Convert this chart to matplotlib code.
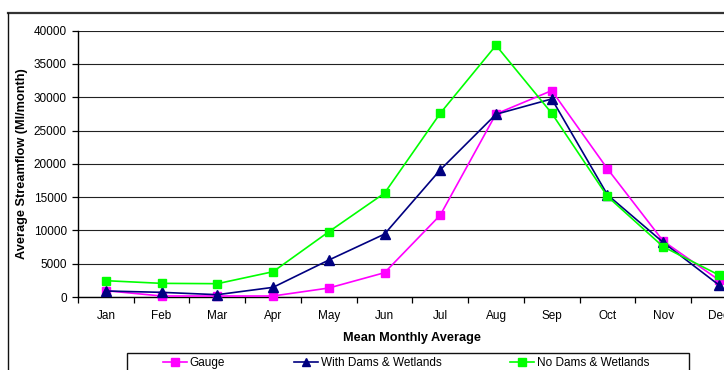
import matplotlib
matplotlib.use("Agg")
import matplotlib.pyplot as plt
from matplotlib.lines import Line2D
from matplotlib.patches import Rectangle

plt.rcParams["font.family"] = ["Liberation Sans", "DejaVu Sans"]

months = ["Jan", "Feb", "Mar", "Apr", "May", "Jun",
          "Jul", "Aug", "Sep", "Oct", "Nov", "Dec"]
gauge = [950, 150, 150, 150, 1350, 3650, 12300, 27500, 31000, 19250, 8400, 2550]
with_dams = [900, 700, 350, 1450, 5550, 9450, 19100, 27450, 29750, 15350, 8200, 1800]
no_dams = [2450, 2050, 2000, 3800, 9800, 15600, 27600, 37800, 27600, 15100, 7550, 3300]
series_names = ["Gauge", "With Dams & Wetlands", "No Dams & Wetlands"]
y_ticks = list(range(0, 40001, 5000))

W, H = 724, 370
fig = plt.figure(figsize=(W / 100, H / 100), dpi=100)

# chart-area border (top and left edges)
fig.add_artist(Line2D([8 / W, 1.0], [1 - 12.7 / H, 1 - 12.7 / H],
                      transform=fig.transFigure, color="#333333", lw=1.6))
fig.add_artist(Line2D([8.3 / W, 8.3 / W], [0, 1 - 12.7 / H],
                      transform=fig.transFigure, color="#111111", lw=1.0))

left, right = 78.0, 746.8
bottom, top = 297.0, 30.7
ax = fig.add_axes([left / W, 1 - bottom / H, (right - left) / W, (bottom - top) / H])

x = list(range(len(months)))
ax.plot(x, gauge, color="#FF00FF", lw=1.2, marker="s", ms=6,
        label=series_names[0], clip_on=False, zorder=3)
ax.plot(x, with_dams, color="#000080", lw=1.2, marker="^", ms=7,
        label=series_names[1], clip_on=False, zorder=4)
ax.plot(x, no_dams, color="#00FF00", lw=1.2, marker="s", ms=6,
        label=series_names[2], clip_on=False, zorder=5)

ax.set_xlim(-0.5, len(months) - 0.5)
ax.set_ylim(0, 40000)
ax.set_yticks(y_ticks)
ax.set_yticklabels([str(v) for v in y_ticks])
ax.set_xticks(x)
ax.set_xticklabels(months)
ax.set_xticks([i - 0.5 for i in range(len(months) + 1)], minor=True)
ax.tick_params(axis="x", which="major", length=0, pad=9.5, labelsize=8.5)
ax.tick_params(axis="x", which="minor", length=4.5, width=0.9, direction="out")
ax.tick_params(axis="y", length=4, width=0.9, direction="out", pad=4, labelsize=8.5)

ax.grid(axis="y", color="#222222", lw=0.8)
ax.set_axisbelow(True)
for side in ("top", "right"):
    ax.spines[side].set_visible(False)
for side in ("left", "bottom"):
    ax.spines[side].set_linewidth(1.0)
    ax.spines[side].set_color("black")

fig.text(22 / W, 1 - 164 / H, "Average Streamflow (Ml/month)", rotation=90,
         ha="center", va="center", fontsize=9.2, fontweight="bold")
fig.text(412 / W, 1 - 338.5 / H, "Mean Monthly Average",
         ha="center", va="center", fontsize=9.2, fontweight="bold")

# legend box, running off the bottom edge
fig.add_artist(Rectangle((127.3 / W, -0.05), (689.3 - 127.3) / W, (1 - 352.7 / H) + 0.05,
                         transform=fig.transFigure, fill=False,
                         edgecolor="#111111", lw=1.0))
handles, labels = ax.get_legend_handles_labels()
leg = fig.legend(handles, labels, loc="center left", ncol=3, frameon=False,
                 bbox_to_anchor=(163 / W, 1 - 362.7 / H), fontsize=8.5,
                 handlelength=2.0, handletextpad=0.25, columnspacing=5.85,
                 borderpad=0, borderaxespad=0, markerscale=0.9)

fig.savefig("out.png", dpi=100, facecolor="white")
